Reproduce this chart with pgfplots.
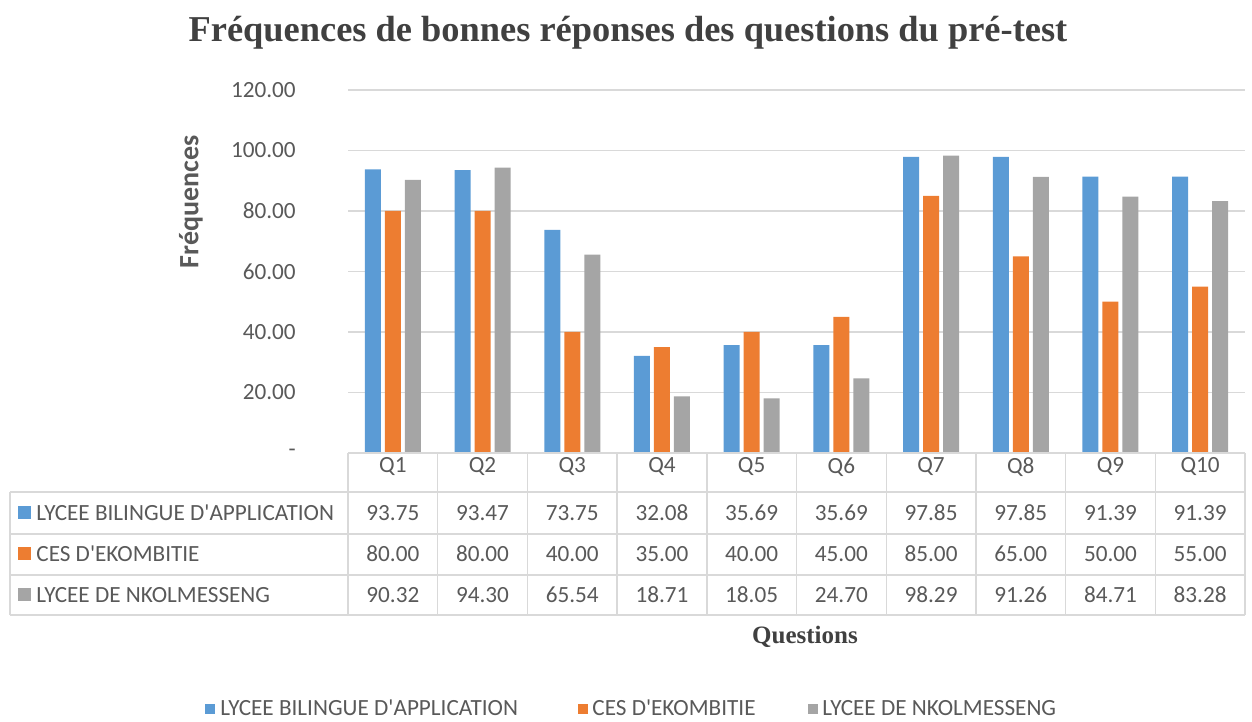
\documentclass[border=0pt]{standalone}
\usepackage{pgfplots}
\pgfplotsset{compat=1.18}
\usepackage{pgfplotstable}
\usepackage{fontspec}
\setmainfont{Carlito}
\newfontfamily\serifb{Liberation Serif}
\definecolor{cblue}{HTML}{5B9BD5}
\definecolor{corange}{HTML}{ED7D31}
\definecolor{cgray}{HTML}{A5A5A5}
\definecolor{gridc}{HTML}{D9D9D9}
\definecolor{txt}{HTML}{595959}
\definecolor{ttl}{HTML}{404040}

\pgfplotstableread{
idx q a b c
0 Q1 93.75 80.00 90.32
1 Q2 93.47 80.00 94.30
2 Q3 73.75 40.00 65.54
3 Q4 32.08 35.00 18.71
4 Q5 35.69 40.00 18.05
5 Q6 35.69 45.00 24.70
6 Q7 97.85 85.00 98.29
7 Q8 97.85 65.00 91.26
8 Q9 91.39 50.00 84.71
9 Q10 91.39 55.00 83.28
}\datatable

\newcommand{\qs}{\textquotesingle}

\begin{document}
\begin{tikzpicture}[x=0.5pt,y=0.5pt]
\path[use as bounding box] (0,0) rectangle (1252,722);
\begin{axis}[
  at={(174pt,134.5pt)}, anchor=south west, scale only axis,
  width=448.5pt, height=181.5pt,
  xmin=-0.5, xmax=9.5, ymin=0, ymax=120,
  axis line style={draw=none},
  xtick=\empty,
  ytick={0,20,...,120},
  yticklabels={-,20.00,40.00,60.00,80.00,100.00,120.00},
  ymajorgrids, grid style={gridc, line width=0.7pt},
  major tick length=0pt,
  yticklabel style={font=\fontsize{11.6}{13}\selectfont, text=txt, anchor=east, xshift=-22.6pt},
  ybar=2pt, bar width=8pt,
  clip=false,
]
\addplot[fill=cblue, draw=none] table[x=idx,y=a]{\datatable};
\addplot[fill=corange, draw=none] table[x=idx,y=b]{\datatable};
\addplot[fill=cgray, draw=none] table[x=idx,y=c]{\datatable};
\end{axis}

% title and axis titles
\node[text=ttl, font=\serifb\bfseries\fontsize{18.2}{21}\selectfont] at (628,689) {Fréquences de bonnes réponses des questions du pré-test};
\node[text=txt, font=\bfseries\fontsize{14}{16}\selectfont, rotate=90] at (191,520) {Fréquences};
\node[text=ttl, font=\serifb\bfseries\fontsize{12.5}{14}\selectfont] at (805,85) {Questions};

% data table grid
\begin{scope}[gridc, line width=0.7pt]
\draw (348,269) -- (1245,269);
\foreach \yy in {230,188,147,107} {\draw (10,\yy) -- (1245,\yy);}
\draw (10,230) -- (10,107);
\foreach \k in {0,...,10} {\draw ({348+89.7*\k},269) -- ({348+89.7*\k},107);}
\end{scope}

% data table text
\begin{scope}[font=\fontsize{11.6}{13}\selectfont, text=txt]
\foreach \i in {0,...,9} {
  \pgfplotstablegetelem{\i}{q}\of\datatable \edef\vq{\pgfplotsretval}
  \pgfplotstablegetelem{\i}{a}\of\datatable \edef\va{\pgfplotsretval}
  \pgfplotstablegetelem{\i}{b}\of\datatable \edef\vb{\pgfplotsretval}
  \pgfplotstablegetelem{\i}{c}\of\datatable \edef\vc{\pgfplotsretval}
  \node at ({348+89.7*(\i+0.5)},255) {\vq};
  \node at ({348+89.7*(\i+0.5)},209) {\pgfmathprintnumber[fixed,fixed zerofill,precision=2,assume math mode=true]{\va}};
  \node at ({348+89.7*(\i+0.5)},168) {\pgfmathprintnumber[fixed,fixed zerofill,precision=2,assume math mode=true]{\vb}};
  \node at ({348+89.7*(\i+0.5)},127) {\pgfmathprintnumber[fixed,fixed zerofill,precision=2,assume math mode=true]{\vc}};
}
\fill[cblue] (18,203) rectangle (31,216);
\fill[corange] (18,162) rectangle (31,175);
\fill[cgray] (18,121) rectangle (31,134);
\node[anchor=west, inner sep=0pt] at (36,209) {LYCEE BILINGUE D\qs APPLICATION};
\node[anchor=west, inner sep=0pt] at (36,168) {CES D\qs EKOMBITIE};
\node[anchor=west, inner sep=0pt] at (36,127) {LYCEE DE NKOLMESSENG};

% legend
\fill[cblue] (205,8) rectangle (215,18);
\fill[corange] (578,8) rectangle (588,18);
\fill[cgray] (808,8) rectangle (818,18);
\node[anchor=west, inner sep=0pt] at (220,14) {LYCEE BILINGUE D\qs APPLICATION};
\node[anchor=west, inner sep=0pt] at (592,14) {CES D\qs EKOMBITIE};
\node[anchor=west, inner sep=0pt] at (822,14) {LYCEE DE NKOLMESSENG};
\end{scope}
\end{tikzpicture}
\end{document}
